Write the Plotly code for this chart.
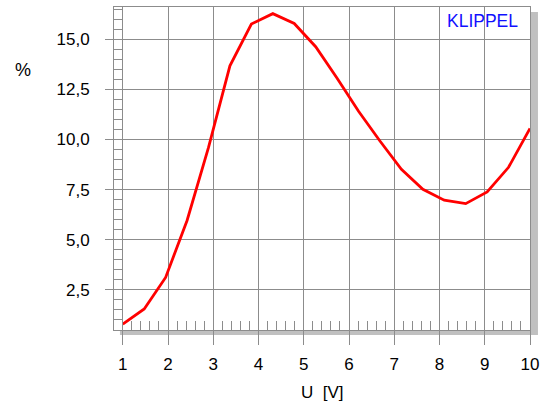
import plotly.graph_objects as go

# ---- data ----
voltage = [1.0, 1.474, 1.947, 2.421, 2.895, 3.368, 3.842, 4.316, 4.789, 5.263,
           5.737, 6.211, 6.684, 7.158, 7.632, 8.105, 8.579, 9.053, 9.526, 10.0]
distortion = [0.79, 1.55, 3.12, 5.96, 9.6, 13.67, 15.75, 16.27, 15.78, 14.62,
              13.05, 11.4, 9.92, 8.51, 7.51, 6.97, 6.80, 7.38, 8.61, 10.55]
x_ticks = [1, 2, 3, 4, 5, 6, 7, 8, 9, 10]
y_ticks = [2.5, 5.0, 7.5, 10.0, 12.5, 15.0]
y_tick_labels = ["2,5", "5,0", "7,5", "10,0", "12,5", "15,0"]

W, H = 545, 403
L, R, T, B = 114, 13, 6, 73
PW, PH = W - L - R, H - T - B

def px(xp):
    return (xp - L) / PW

def py(yp):
    return (H - B - yp) / PH

FONT = "Liberation Sans, Arial, sans-serif"
GRID = "#8c8c8c"

fig = go.Figure()
fig.add_trace(go.Scatter(x=voltage, y=distortion, mode="lines",
                         line=dict(color="#ff0000", width=2.8),
                         showlegend=False, hoverinfo="skip"))

fig.update_layout(
    width=W, height=H,
    margin=dict(l=L, r=R, t=T, b=B, pad=0),
    paper_bgcolor="white", plot_bgcolor="white",
    font=dict(family=FONT, size=17, color="black"),
    separators=",.",
    shapes=[
        dict(type="rect", xref="paper", yref="paper",
             x0=px(120), x1=px(540), y0=py(335), y1=py(11),
             fillcolor="#c0c0c0", line=dict(width=0), layer="below"),
        dict(type="rect", xref="paper", yref="paper",
             x0=px(114), x1=px(532), y0=py(330), y1=py(6),
             fillcolor="white", line=dict(width=0), layer="below"),
    ],
    annotations=[
        dict(text="%", xref="paper", yref="paper", x=px(23), y=py(69),
             xanchor="center", yanchor="middle", showarrow=False,
             font=dict(size=18, color="black")),
        dict(text="U\u00a0 [V]", xref="paper", yref="paper", x=px(323), y=py(393),
             xanchor="center", yanchor="middle", showarrow=False,
             font=dict(size=17, color="black")),
        dict(text="KLIPPEL", xref="paper", yref="paper", x=px(522), y=py(20),
             xanchor="right", yanchor="middle", showarrow=False,
             font=dict(size=17.5, color="#1010ff")),
    ],
)

fig.update_xaxes(
    range=[0.806, 10.0], tickmode="array", tickvals=x_ticks,
    ticks="outside", ticklen=14, tickcolor=GRID, tickwidth=1,
    showgrid=True, gridcolor=GRID, gridwidth=1, zeroline=False,
    showline=True, linecolor=GRID, linewidth=1, mirror=True,
    ticklabelstandoff=5,
    minor=dict(dtick=0.2, tick0=0, ticks="inside", ticklen=9,
               tickcolor=GRID, tickwidth=1, showgrid=False),
)
fig.update_yaxes(
    range=[0.5, 16.6], tickmode="array", tickvals=y_ticks, ticktext=y_tick_labels,
    ticks="outside", ticklen=8, tickcolor=GRID, tickwidth=1,
    showgrid=True, gridcolor=GRID, gridwidth=1, zeroline=False,
    showline=True, linecolor=GRID, linewidth=1, mirror=True,
    ticklabelstandoff=12,
    minor=dict(dtick=0.5, tick0=0, ticks="inside", ticklen=9,
               tickcolor=GRID, tickwidth=1, showgrid=False),
)

fig.write_html("out.html")
